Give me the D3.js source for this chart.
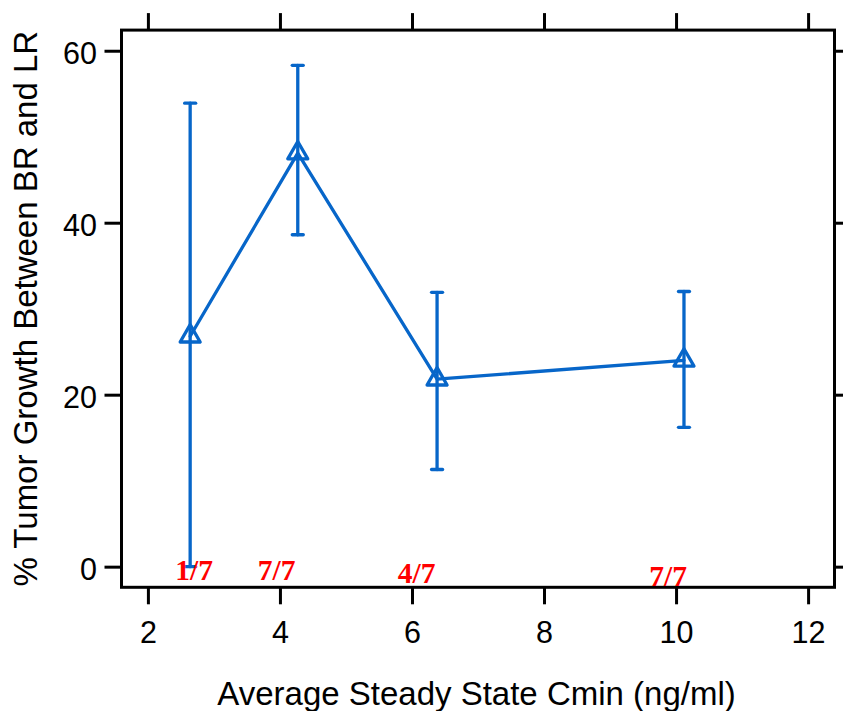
<!DOCTYPE html>
<html>
<head>
<meta charset="utf-8">
<script src="https://cdn.jsdelivr.net/npm/d3@7"></script>
<style>
  body { margin: 0; background: #fff; }
  svg { display: block; }
</style>
</head>
<body>
<svg id="chart" width="843" height="711"></svg>
<script>
// Average steady-state Cmin per dose group (ng/ml)
const cmin = [2.64, 4.27, 6.38, 10.12];
// Mean % tumor growth between BR and LR, with error bar limits
const growthMean = [26.8, 48.1, 21.8, 24.0];
const growthLow = [0, 38.6, 11.3, 16.2];
const growthHigh = [53.9, 58.3, 31.9, 32.0];
// Responder counts written along the bottom of the panel
const responders = ["1/7", "7/7", "4/7", "7/7"];
const responderX = [2.70, 3.95, 6.07, 9.88];
const responderY = [-1.55, -1.55, -1.86, -2.24];
// Axis ticks
const xTicks = [2, 4, 6, 8, 10, 12];
const yTicks = [0, 20, 40, 60];

(function drawChart() {
  const blue = "#0766c9";
  const svg = d3.select("#chart");

  const x = d3.scaleLinear().domain([1.6, 12.4]).range([121.5, 834.5]);
  const y = d3.scaleLinear().domain([-2.4, 62.4]).range([587.3, 30.1]);

  const panelLeft = x(1.6), panelRight = x(12.4), panelTop = y(62.4), panelBottom = y(-2.4);
  const tickLen = 17;
  const sans = "'Liberation Sans', Arial, sans-serif";
  const markWidth = 3.3;

  // Axes: ticks on all four sides, labels on bottom and left only
  function styleAxis(g) {
    g.select(".domain").remove();
    g.selectAll(".tick line").attr("stroke", "#000").attr("stroke-width", 3);
    g.selectAll(".tick text").attr("fill", "#000").attr("font-family", sans).attr("font-size", 30.5);
  }

  svg.append("g")
    .attr("transform", `translate(0,${panelBottom})`)
    .call(d3.axisBottom(x).tickValues(xTicks).tickSize(tickLen).tickPadding(17).tickFormat(d3.format("d")))
    .call(styleAxis);

  svg.append("g")
    .attr("transform", `translate(0,${panelTop})`)
    .call(d3.axisTop(x).tickValues(xTicks).tickSize(tickLen).tickFormat(""))
    .call(styleAxis);

  svg.append("g")
    .attr("transform", `translate(${panelLeft},0)`)
    .call(d3.axisLeft(y).tickValues(yTicks).tickSize(tickLen).tickPadding(7.5).tickFormat(d3.format("d")))
    .call(styleAxis)
    .call(g => g.selectAll(".tick text").attr("dy", "0.42em"));

  svg.append("g")
    .attr("transform", `translate(${panelRight},0)`)
    .call(d3.axisRight(y).tickValues(yTicks).tickSize(tickLen).tickFormat(""))
    .call(styleAxis);

  // Panel frame
  svg.append("rect")
    .attr("x", panelLeft).attr("y", panelTop)
    .attr("width", panelRight - panelLeft).attr("height", panelBottom - panelTop)
    .attr("fill", "none").attr("stroke", "#000").attr("stroke-width", 3);

  // Axis titles
  svg.append("text")
    .attr("x", 476.5).attr("y", 705)
    .attr("text-anchor", "middle")
    .attr("font-family", sans).attr("font-size", 33)
    .text("Average Steady State Cmin (ng/ml)");

  svg.append("text")
    .attr("transform", `translate(37,${(panelTop + panelBottom) / 2}) rotate(-90)`)
    .attr("text-anchor", "middle")
    .attr("font-family", sans).attr("font-size", 33)
    .text("% Tumor Growth Between BR and LR");

  const pts = cmin.map((c, i) => ({ x: c, m: growthMean[i], lo: growthLow[i], hi: growthHigh[i] }));

  // Error bars
  const capHalf = 5.5;
  const eb = svg.append("g").attr("stroke", blue).attr("stroke-width", markWidth)
    .attr("stroke-linecap", "round").attr("fill", "none");
  pts.forEach(p => {
    eb.append("line").attr("x1", x(p.x)).attr("x2", x(p.x)).attr("y1", y(p.lo)).attr("y2", y(p.hi));
    eb.append("line").attr("x1", x(p.x) - capHalf).attr("x2", x(p.x) + capHalf).attr("y1", y(p.hi)).attr("y2", y(p.hi));
    eb.append("line").attr("x1", x(p.x) - capHalf).attr("x2", x(p.x) + capHalf).attr("y1", y(p.lo)).attr("y2", y(p.lo));
  });

  // Connecting line through the means
  svg.append("path")
    .datum(pts)
    .attr("d", d3.line().x(d => x(d.x)).y(d => y(d.m)))
    .attr("fill", "none").attr("stroke", blue).attr("stroke-width", markWidth)
    .attr("stroke-linejoin", "round").attr("stroke-linecap", "round");

  // Open triangle markers centred on each mean
  const side = 20, h = side * Math.sqrt(3) / 2;
  svg.append("g").selectAll("path")
    .data(pts)
    .join("path")
    .attr("transform", d => `translate(${x(d.x)},${y(d.m)})`)
    .attr("d", `M0,${-2 * h / 3} L${side / 2},${h / 3} L${-side / 2},${h / 3} Z`)
    .attr("fill", "none").attr("stroke", blue).attr("stroke-width", markWidth)
    .attr("stroke-linejoin", "round");

  // Responder labels
  svg.append("g").selectAll("text")
    .data(responders)
    .join("text")
    .attr("x", (d, i) => x(responderX[i]))
    .attr("y", (d, i) => y(responderY[i]))
    .attr("text-anchor", "middle")
    .attr("font-family", "'Liberation Serif', 'Times New Roman', serif")
    .attr("font-weight", "bold").attr("font-size", 29.5)
    .attr("fill", "#ff0000")
    .text(d => d);
})();
</script>
</body>
</html>
